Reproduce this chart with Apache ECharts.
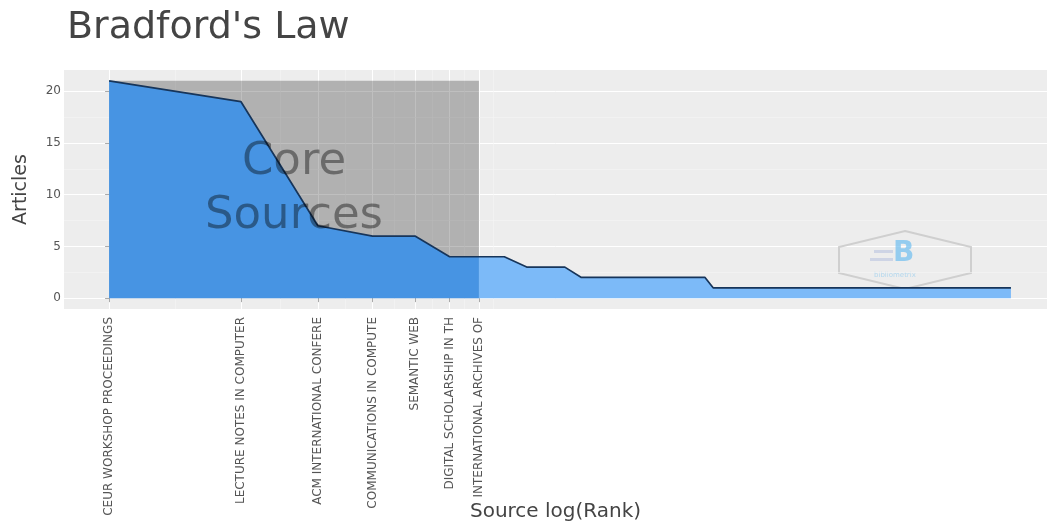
<!DOCTYPE html>
<html><head><meta charset="utf-8">
<script src="https://cdn.jsdelivr.net/npm/echarts@6/dist/echarts.min.js"></script>
<style>html,body{margin:0;padding:0;background:#fff}#c{width:1047px;height:522px}</style>
</head><body><div id="c"></div>
<script>
const chartTitle = "Bradford's Law";
const xAxisTitle = "Source log(Rank)";
const yAxisTitle = "Articles";
const coreLabel = "Core\nSources";
// Core-zone sources (tick labels, truncated to 25 characters as in the original)
const coreSources = [
  "CEUR WORKSHOP PROCEEDINGS",
  "LECTURE NOTES IN COMPUTER",
  "ACM INTERNATIONAL CONFERE",
  "COMMUNICATIONS IN COMPUTE",
  "SEMANTIC WEB",
  "DIGITAL SCHOLARSHIP IN TH",
  "INTERNATIONAL ARCHIVES OF"
];
// Articles per source, in rank order (rank = position + 1)
const articles = [
  21,19,7,6,6,4,4,4,3,3,
  3,2,2,2,2,2,2,2,2,2,
  2,2,2,1,1,1,1,1,1,1,
  1,1,1,1,1,1,1,1,1,1,
  1,1,1,1,1,1,1,1,1,1,
  1,1,1,1,1,1,1,1,1,1,
  1,1,1,1,1,1,1,1,1,1,
  1,1,1,1,1,1,1,1,1,1,
  1,1,1,1,1,1,1,1,1,1,
  1,1,1,1,1,1,1,1,1,1,
  1,1,1,1,1,1,1,1,1,1,
  1,1,1,1,1
];
const yTicks = [0, 5, 10, 15, 20];
const yMinorTicks = [2.5, 7.5, 12.5, 17.5];

const coreN = coreSources.length;
const points = articles.map((v, i) => [Math.log(i + 1), v]);
const corePts = points.slice(0, coreN);
const restPts = points.slice(coreN - 1);
const coreTicks = corePts.map(p => p[0]);
const xMinor = [];
for (let i = 0; i < coreTicks.length - 1; i++) xMinor.push((coreTicks[i] + coreTicks[i + 1]) / 2);
xMinor.push(coreTicks[coreN - 1] + (coreTicks[coreN - 1] - coreTicks[coreN - 2]) / 2);
const L = Math.log(articles.length);
const maxA = Math.max(...articles);
const FONT = "DejaVu Sans";

const chart = echarts.init(document.getElementById('c'), null, {renderer: 'canvas'});
chart.setOption({
  animation: false,
  backgroundColor: '#ffffff',
  title: {
    text: chartTitle, left: 62, top: 4,
    textStyle: {fontFamily: FONT, fontSize: 38, fontWeight: 'normal', color: '#444444'}
  },
  grid: {left: 64, top: 70, right: 0, height: 239, show: true, backgroundColor: '#ededed', borderWidth: 0,
         containLabel: false, outerBoundsMode: 'none'},
  xAxis: {
    type: 'value', min: -0.05 * L, max: 1.04 * L,
    name: xAxisTitle, nameLocation: 'middle', nameGap: 193, nameMoveOverlap: false,
    nameTextStyle: {fontFamily: FONT, fontSize: 20, color: '#444444'},
    axisLine: {show: false},
    axisTick: {show: true, customValues: coreTicks, length: 4, lineStyle: {color: '#aaaaaa'}},
    axisLabel: {
      customValues: coreTicks, rotate: 90, margin: 8,
      fontFamily: FONT, fontSize: 12, color: '#555555',
      formatter: v => coreSources[Math.round(Math.exp(v)) - 1] || ''
    },
    splitLine: {show: true, lineStyle: {color: '#ffffff', width: 1}}
  },
  yAxis: {
    type: 'value', min: -0.05 * maxA, max: 1.05 * maxA,
    name: yAxisTitle, nameLocation: 'middle', nameGap: 33, nameMoveOverlap: false,
    nameTextStyle: {fontFamily: FONT, fontSize: 19, color: '#444444'},
    axisLine: {show: false},
    axisTick: {show: true, customValues: yTicks, length: 4, lineStyle: {color: '#aaaaaa'}},
    axisLabel: {customValues: yTicks, margin: 3, fontFamily: FONT, fontSize: 12, color: '#555555'},
    splitLine: {show: true, lineStyle: {color: '#ffffff', width: 1}}
  },
  graphic: [
    {type: 'polygon', z: 1, silent: true,
     shape: {points: [[905, 231], [971, 247], [971, 273], [905, 289], [839, 273], [839, 247]]},
     style: {fill: 'rgba(0,0,0,0)', stroke: '#cfcfcf', lineWidth: 2}},
    {type: 'text', z: 1, silent: true, left: 893, top: 240,
     style: {text: 'B', fill: 'rgba(110,190,240,0.7)', font: 'bold 28px "DejaVu Sans"'}},
    {type: 'rect', z: 1, silent: true, shape: {x: 874, y: 250, width: 19, height: 3},
     style: {fill: 'rgba(150,165,215,0.35)'}},
    {type: 'rect', z: 1, silent: true, shape: {x: 870, y: 258, width: 23, height: 3},
     style: {fill: 'rgba(150,165,215,0.35)'}},
    {type: 'text', z: 1, silent: true, left: 874, top: 272,
     style: {text: 'bibliometrix', fill: 'rgba(110,190,240,0.45)', font: '7px "DejaVu Sans"'}}
  ],
  series: [
    {
      type: 'line', data: [], z: 1, silent: true,
      markLine: {
        silent: true, z: 1, symbol: ['none', 'none'], label: {show: false},
        lineStyle: {color: '#f5f5f5', width: 0.6, type: 'solid'},
        data: yMinorTicks.map(v => ({yAxis: v})).concat(xMinor.map(v => ({xAxis: v})))
      }
    },
    {
      type: 'line', data: corePts, symbol: 'none', z: 3, silent: true,
      lineStyle: {width: 0}, areaStyle: {color: '#4794e3', opacity: 1},
      markArea: {
        silent: true, z: 2, itemStyle: {color: 'rgba(0,0,0,0.25)'},
        data: [[{xAxis: 0, yAxis: 0}, {xAxis: coreTicks[coreN - 1], yAxis: maxA}]]
      }
    },
    {
      type: 'line', data: restPts, symbol: 'none', z: 3, silent: true,
      lineStyle: {width: 0}, areaStyle: {color: '#7cbaf8', opacity: 1}
    },
    {
      type: 'line', data: points, symbol: 'none', z: 4, silent: true,
      lineStyle: {color: '#17355a', width: 1.7}
    },
    {
      type: 'scatter', data: [[coreTicks[coreN - 1] / 2, maxA / 2]], symbolSize: 0, z: 5, silent: true,
      label: {show: true, position: 'inside', formatter: coreLabel, fontFamily: FONT, fontSize: 45,
              lineHeight: 54, color: 'rgba(0,0,0,0.5)', align: 'center'}
    }
  ]
});
</script></body></html>
